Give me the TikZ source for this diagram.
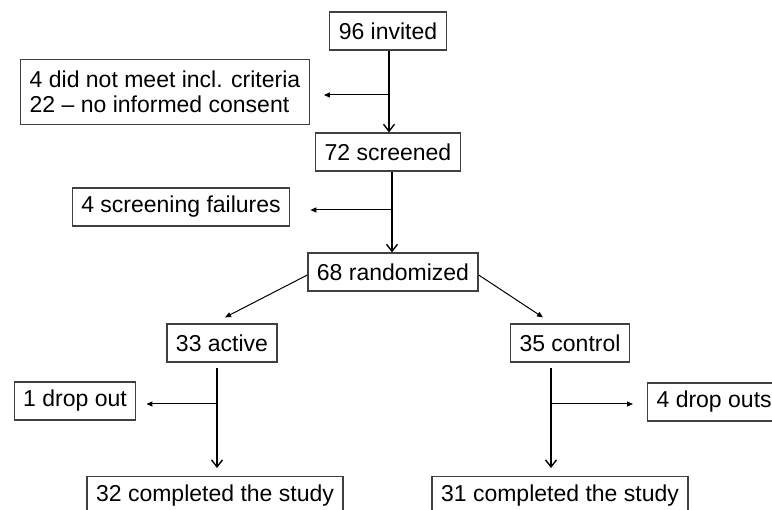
\documentclass[tikz,border=0pt]{standalone}
\usepackage{fontspec}
\setmainfont{Liberation Sans}
\usetikzlibrary{arrows.meta}

\tikzset{
  box/.style={draw=black!75, line width=1.2pt, inner xsep=9pt, minimum height=38pt,
    font=\fontsize{23}{25}\selectfont},
  flow/.style={-{Straight Barb[length=7pt,width=11pt,line width=1.4pt]}, line width=1.6pt},
  side/.style={-{Triangle[length=6pt,width=5pt]}, line width=1pt},
}

\begin{document}
\begin{tikzpicture}[x=1pt,y=-1pt]
	\useasboundingbox (0,0) rectangle (772,510);
	\clip (0,0) rectangle (772,510);

	% boxes
	\path (388,31) node[box] (invited) {96 invited};
	\path (165,92) node[box, align=left, minimum height=65pt] (excl) {4 did not meet incl. criteria\\22 -- no informed consent};
	\path (388,152) node[box] (screened) {72 screened};
	\path (181,207) node[box] (fail) {4 screening failures};
	\path (393,272) node[box] (random) {68 randomized};
	\path (222,343) node[box] (active) {33 active};
	\path (570,343) node[box] (control) {35 control};
	\path (75,401) node[box] (drop1) {1 drop out};
	\path (647,402) node[box, anchor=west] (drop4) {4 drop outs};
	\path (215,476) node[box, anchor=north] (done1) {32 completed the study};
	\path (560,476) node[box, anchor=north] (done2) {31 completed the study};

	% branch points
	\coordinate (b1) at (389,95);
	\coordinate (b2) at (392,210);
	\coordinate (b3) at (217,404);
	\coordinate (b4) at (551,404);

	% connectors
	\draw[flow] (b1 |- invited.south) -- (b1 |- screened.north);
	\draw[side, shorten >=14pt] (b1) -- (b1 -| excl.east);
	\draw[flow] (b2 |- screened.south) -- (b2 |- random.north);
	\draw[side, shorten >=20pt] (b2) -- (b2 -| fail.east);
	\draw[side] ([yshift=-3pt]random.west) -- ([xshift=3pt,yshift=6pt]active.north);
	\draw[side] ([yshift=-3pt]random.east) -- ([xshift=-27pt,yshift=6pt]control.north);
	\draw[flow, shorten <=5pt, shorten >=8pt] (b3 |- active.south) -- (b3 |- done1.north);
	\draw[side, shorten >=10pt] (b3) -- (b3 -| drop1.east);
	\draw[flow, shorten <=5pt, shorten >=8pt] (b4 |- control.south) -- (b4 |- done2.north);
	\draw[side, shorten >=14pt] (b4) -- (b4 -| drop4.west);
\end{tikzpicture}
\end{document}
